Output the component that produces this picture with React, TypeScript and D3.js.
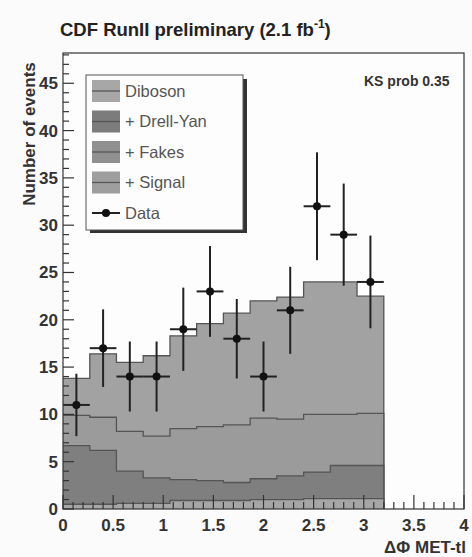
import * as d3 from 'd3';
import React, { useRef, useEffect } from 'react';

const width = 472;
const height = 557;
const frame = { left: 63, right: 464, top: 53, bottom: 509 };

// bin edges in delta phi
const binEdges = [0, 0.267, 0.533, 0.8, 1.067, 1.333, 1.6, 1.867, 2.133, 2.4, 2.667, 2.933, 3.2];

// cumulative stacked predictions
const diboson = [0.5, 0.5, 0.6, 0.6, 0.9, 0.9, 0.9, 1.0, 1.0, 1.1, 1.1, 1.1];
const plusDrellYan = [6.7, 6.2, 4.0, 3.3, 3.1, 3.0, 2.8, 3.2, 3.5, 3.9, 4.6, 4.6];
const plusFakes = [9.9, 9.7, 8.2, 7.7, 8.5, 8.7, 8.9, 9.6, 9.5, 10.0, 10.0, 10.1];
const plusSignal = [13.8, 16.4, 15.5, 16.2, 18.3, 19.6, 20.7, 22.0, 22.4, 24.0, 24.0, 22.5];

// observed data
const dataCounts = [11, 17, 14, 14, 19, 23, 18, 14, 21, 32, 29, 24];
const dataErrors = [3.3, 4.1, 3.7, 3.7, 4.4, 4.8, 4.2, 3.7, 4.6, 5.7, 5.4, 4.9];

const xTicks = [0, 0.5, 1, 1.5, 2, 2.5, 3, 3.5, 4];
const yTicks = [0, 5, 10, 15, 20, 25, 30, 35, 40, 45];

const legendItems = [
    { label: 'Diboson', fill: '#a7a7a7' },
    { label: '+ Drell-Yan', fill: '#7c7c7c' },
    { label: '+ Fakes', fill: '#909090' },
    { label: '+ Signal', fill: '#9e9e9e' },
    { label: 'Data', fill: null },
];

function App() {
    const ref = useRef(null);

    useEffect(() => {
        const svg = d3.select(ref.current);
        svg.selectAll('*').remove();
        const font = "'Liberation Sans', Arial, sans-serif";

        const x = d3.scaleLinear().domain([0, 4]).range([frame.left, frame.right]);
        const y = d3.scaleLinear().domain([0, 48.2]).range([frame.bottom, frame.top]);

        svg.append('rect').attr('width', width).attr('height', height).attr('fill', '#fbfbfb');
        svg.append('rect')
            .attr('x', frame.left).attr('y', frame.top)
            .attr('width', frame.right - frame.left).attr('height', frame.bottom - frame.top)
            .attr('fill', '#fdfdfd');

        const layers = [
            { vals: plusSignal, fill: '#a2a2a2' },
            { vals: plusFakes, fill: '#9b9b9b' },
            { vals: plusDrellYan, fill: '#7f7f7f' },
            { vals: diboson, fill: '#a6a6a6' },
        ];

        layers.forEach(layer => {
            const pts = layer.vals.map((v, i) => ({ e: binEdges[i], v: v }));
            pts.push({ e: binEdges[binEdges.length - 1], v: layer.vals[layer.vals.length - 1] });
            const area = d3.area()
                .x(d => x(d.e))
                .y0(y(0))
                .y1(d => y(d.v))
                .curve(d3.curveStepAfter);
            svg.append('path').datum(pts)
                .attr('d', area)
                .attr('fill', layer.fill);
            const line = d3.line()
                .x(d => x(d.e))
                .y(d => y(d.v))
                .curve(d3.curveStepAfter);
            const lastX = x(binEdges[binEdges.length - 1]);
            svg.append('path').datum(pts)
                .attr('d', line(pts) + 'L' + lastX + ',' + y(0))
                .attr('fill', 'none')
                .attr('stroke', '#555')
                .attr('stroke-width', 1.3);
        });

        // data points
        const g = svg.append('g');
        dataCounts.forEach((n, i) => {
            const lo = binEdges[i], hi = binEdges[i + 1];
            const cx = x((lo + hi) / 2);
            g.append('line')
                .attr('x1', cx).attr('x2', cx)
                .attr('y1', y(n - dataErrors[i])).attr('y2', y(n + dataErrors[i]))
                .attr('stroke', '#222').attr('stroke-width', 2);
            g.append('line')
                .attr('x1', x(lo)).attr('x2', x(hi))
                .attr('y1', y(n)).attr('y2', y(n))
                .attr('stroke', '#222').attr('stroke-width', 2);
            g.append('circle')
                .attr('cx', cx).attr('cy', y(n)).attr('r', 4)
                .attr('fill', '#111');
        });

        // frame
        svg.append('rect')
            .attr('x', frame.left).attr('y', frame.top)
            .attr('width', frame.right - frame.left).attr('height', frame.bottom - frame.top)
            .attr('fill', 'none').attr('stroke', '#333').attr('stroke-width', 1.2);

        // x ticks
        const xMinor = d3.range(0, 40.5, 1).map(v => v / 10);
        xMinor.forEach(v => {
            const major = Math.abs(v * 2 - Math.round(v * 2)) < 1e-6;
            svg.append('line')
                .attr('x1', x(v)).attr('x2', x(v))
                .attr('y1', frame.bottom).attr('y2', frame.bottom - (major ? 14 : 7))
                .attr('stroke', '#333').attr('stroke-width', 1.2);
        });
        // y ticks
        d3.range(0, 49).forEach(v => {
            const major = v % 5 === 0;
            svg.append('line')
                .attr('x1', frame.left).attr('x2', frame.left + (major ? 11 : 6))
                .attr('y1', y(v)).attr('y2', y(v))
                .attr('stroke', '#333').attr('stroke-width', 1.2);
        });

        svg.selectAll('.xlab').data(xTicks).enter().append('text')
            .attr('x', d => x(d)).attr('y', 531)
            .attr('text-anchor', 'middle')
            .style('font-family', font).style('font-weight', 'bold').style('font-size', '17px')
            .attr('fill', '#333')
            .text(d => String(d));
        svg.selectAll('.ylab').data(yTicks).enter().append('text')
            .attr('x', 58).attr('y', d => y(d) + 6)
            .attr('text-anchor', 'end')
            .style('font-family', font).style('font-weight', 'bold').style('font-size', '17px')
            .attr('fill', '#333')
            .text(d => String(d));

        // titles
        const title = svg.append('text')
            .attr('x', 60).attr('y', 36)
            .style('font-family', font).style('font-weight', 'bold').style('font-size', '18.5px')
            .attr('fill', '#222');
        title.append('tspan').text('CDF RunII preliminary (2.1 fb');
        title.append('tspan').attr('dy', -8).style('font-size', '12px').text('-1');
        title.append('tspan').attr('dy', 8).text(')');

        svg.append('text')
            .attr('x', 364).attr('y', 86)
            .style('font-family', font).style('font-weight', 'bold').style('font-size', '14px')
            .attr('fill', '#333')
            .text('KS prob 0.35');

        svg.append('text')
            .attr('x', 466).attr('y', 553)
            .attr('text-anchor', 'end')
            .style('font-family', font).style('font-weight', 'bold').style('font-size', '17px')
            .attr('fill', '#333')
            .text('ΔΦ MET-tl');

        svg.append('text')
            .attr('transform', 'translate(35,134) rotate(-90)')
            .attr('text-anchor', 'middle')
            .style('font-family', font).style('font-weight', 'bold').style('font-size', '17px')
            .attr('fill', '#333')
            .text('Number of events');

        // legend
        const lg = svg.append('g');
        lg.append('rect').attr('x', 90).attr('y', 79).attr('width', 157).attr('height', 154).attr('fill', '#333');
        lg.append('rect').attr('x', 86).attr('y', 75).attr('width', 157).attr('height', 155)
            .attr('fill', '#fdfdfd').attr('stroke', '#555').attr('stroke-width', 1);
        legendItems.forEach((item, i) => {
            const cy = 91 + i * 30.5;
            if (item.fill) {
                lg.append('rect').attr('x', 92).attr('y', cy - 11).attr('width', 28).attr('height', 22)
                    .attr('fill', item.fill);
                lg.append('line').attr('x1', 92).attr('x2', 120).attr('y1', cy).attr('y2', cy)
                    .attr('stroke', '#555').attr('stroke-width', 1.3);
            } else {
                lg.append('line').attr('x1', 92).attr('x2', 120).attr('y1', cy).attr('y2', cy)
                    .attr('stroke', '#222').attr('stroke-width', 2);
                lg.append('circle').attr('cx', 106).attr('cy', cy).attr('r', 4).attr('fill', '#111');
            }
            lg.append('text').attr('x', 125).attr('y', cy + 5.5)
                .style('font-family', font).style('font-size', '16.5px')
                .attr('fill', '#555')
                .text(item.label);
        });
    }, []);

    return (
        <svg ref={ref} width={width} height={height}
            style={{ position: 'absolute', left: 0, top: 0 }} />
    );
}

export default App;
